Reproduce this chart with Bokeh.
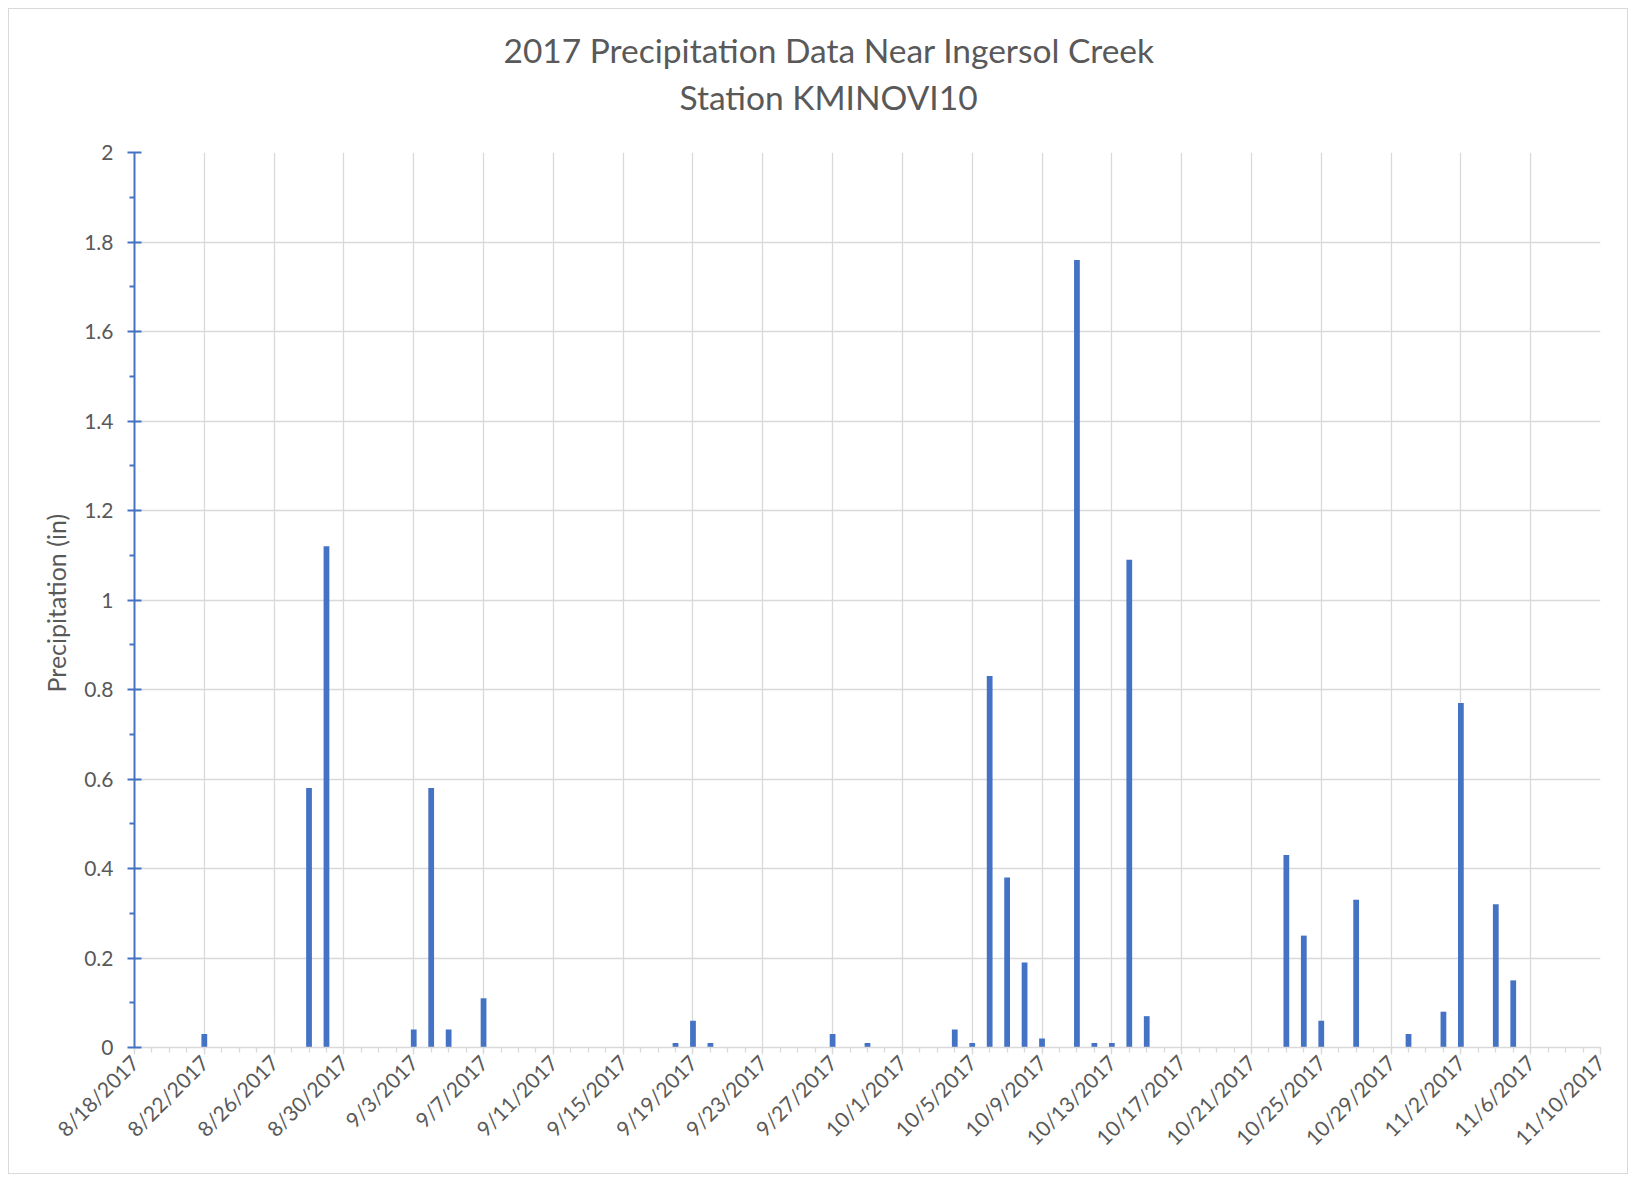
import math
import pandas as pd
from bokeh.plotting import figure
from bokeh.models import (ColumnDataSource, FixedTicker, Range1d, Title,
                          CustomJSTickFormatter)
from bokeh.embed import file_html
from bokeh.resources import INLINE

# ---- data ----
dates = ["2017-08-22", "2017-08-28", "2017-08-29", "2017-09-03", "2017-09-04",
         "2017-09-05", "2017-09-07", "2017-09-18", "2017-09-19", "2017-09-20",
         "2017-09-27", "2017-09-29", "2017-10-04", "2017-10-05", "2017-10-06",
         "2017-10-07", "2017-10-08", "2017-10-09", "2017-10-11", "2017-10-12",
         "2017-10-13", "2017-10-14", "2017-10-15", "2017-10-23", "2017-10-24",
         "2017-10-25", "2017-10-27", "2017-10-30", "2017-11-01", "2017-11-02",
         "2017-11-04", "2017-11-05"]
precip = [0.03, 0.58, 1.12, 0.04, 0.58,
          0.04, 0.11, 0.01, 0.06, 0.01,
          0.03, 0.01, 0.04, 0.01, 0.83,
          0.38, 0.19, 0.02, 1.76, 0.01,
          0.01, 1.09, 0.07, 0.43, 0.25,
          0.06, 0.33, 0.03, 0.08, 0.77,
          0.32, 0.15]
x_start = "2017-08-18"
x_end = "2017-11-10"
x_tick_step_days = 4
y_ticks = [0, 0.2, 0.4, 0.6, 0.8, 1.0, 1.2, 1.4, 1.6, 1.8, 2.0]
y_minor = [0.1, 0.3, 0.5, 0.7, 0.9, 1.1, 1.3, 1.5, 1.7, 1.9]
title_line1 = "2017 Precipitation Data Near Ingersol Creek"
title_line2 = "Station KMINOVI10"
y_label = "Precipitation  (in)"

# ---- styling / layout ----
BAR = "#4472c4"
GRID = "#d9d9d9"
TXT = "#595959"
FONT = "Lato"
DAY_MS = 86400000

def ms(s):
    return pd.Timestamp(s).value // 10**6

start_ms = ms(x_start)
end_ms = ms(x_end)
major = list(range(start_ms, end_ms + 1, x_tick_step_days * DAY_MS))
minor = list(range(start_ms, end_ms + 1, DAY_MS))

src = ColumnDataSource(dict(date=pd.to_datetime(dates), precip=precip))

p = figure(width=1620, height=1166, x_axis_type="datetime",
           output_backend="svg", toolbar_location=None,
           x_range=Range1d(start_ms, end_ms), y_range=Range1d(0, 2),
           min_border_left=125, min_border_right=29,
           min_border_top=143, min_border_bottom=128)
p.outline_line_color = None
p.background_fill_color = "white"
p.border_fill_color = "white"
p.styles = {"border": "1px solid #d9d9d9", "margin-left": "8px",
            "margin-top": "8px"}

p.vbar(x="date", top="precip", width=0.33 * DAY_MS, bottom=0, source=src,
       fill_color=BAR, line_color=None)

# titles: blank spacer (innermost), then line 2, then line 1; left-aligned
# with offsets so that both lines are centred over the whole chart area
p.add_layout(Title(text=" ", text_font_size="1px", text_color="white",
                   standoff=30), "above")
p.add_layout(Title(text=title_line2, align="left", offset=545,
                   text_font=FONT, text_font_size="33.5px",
                   text_font_style="normal", text_color=TXT, standoff=6),
             "above")
p.add_layout(Title(text=title_line1, align="left", offset=369,
                   text_font=FONT, text_font_size="33.5px",
                   text_font_style="normal", text_color=TXT, standoff=4),
             "above")

# x axis
xa = p.xaxis[0]
xa.ticker = FixedTicker(ticks=major, minor_ticks=minor)
xa.formatter = CustomJSTickFormatter(code="""
const d = new Date(tick);
return (d.getUTCMonth()+1) + '/' + d.getUTCDate() + '/' + d.getUTCFullYear();
""")
xa.major_label_orientation = math.pi / 4
xa.major_label_text_font = FONT
xa.major_label_text_font_size = "21px"
xa.major_label_text_color = TXT
xa.axis_line_color = GRID
xa.axis_line_width = 1.3
xa.major_tick_line_color = GRID
xa.major_tick_line_width = 1.3
xa.major_tick_in = 0
xa.major_tick_out = 7
xa.minor_tick_line_color = GRID
xa.minor_tick_line_width = 1.3
xa.minor_tick_in = 0
xa.minor_tick_out = 5
xa.major_label_standoff = 4

# y axis
ya = p.yaxis[0]
ya.ticker = FixedTicker(ticks=y_ticks, minor_ticks=y_minor)
ya.formatter = CustomJSTickFormatter(code="return String(Math.round(tick*10)/10);")
ya.major_label_text_font = FONT
ya.major_label_text_font_size = "21px"
ya.major_label_text_color = TXT
ya.axis_line_color = BAR
ya.axis_line_width = 2
ya.major_tick_line_color = BAR
ya.major_tick_line_width = 2
ya.major_tick_in = 7
ya.major_tick_out = 7
ya.minor_tick_line_color = BAR
ya.minor_tick_line_width = 2
ya.minor_tick_in = 0
ya.minor_tick_out = 5
ya.major_label_standoff = 14
ya.axis_label = y_label
ya.axis_label_text_font = FONT
ya.axis_label_text_font_size = "25px"
ya.axis_label_text_font_style = "normal"
ya.axis_label_text_color = TXT
ya.axis_label_standoff = 10

# grids
p.xgrid.ticker = FixedTicker(ticks=major)
p.ygrid.ticker = FixedTicker(ticks=y_ticks)
for g in (p.xgrid[0], p.ygrid[0]):
    g.grid_line_color = GRID
    g.grid_line_width = 1.3

open("out.html", "w").write(file_html(p, INLINE))
